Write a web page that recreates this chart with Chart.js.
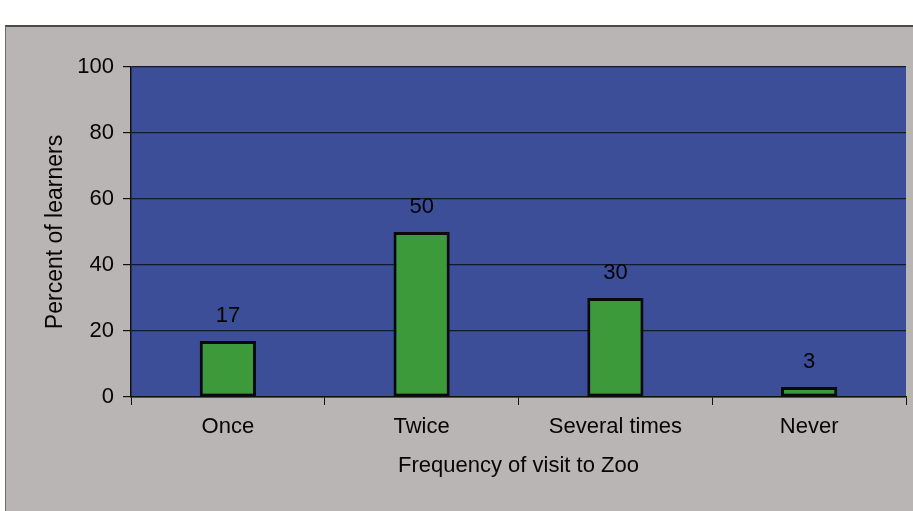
<!DOCTYPE html>
<html lang="en">
<head>
    <meta charset="UTF-8">
    <title>Frequency of visit to Zoo</title>
    <script src="https://cdn.jsdelivr.net/npm/chart.js"></script>
    <style>
        html, body { margin: 0; padding: 0; background: #ffffff; overflow: hidden; }
        #frame {
            position: absolute; left: 5px; top: 25px; width: 908px; height: 486px;
            background: #bab5b5; border-top: 2px solid #4a4a4a; border-left: 1px solid #6a6a6a;
            box-sizing: border-box;
        }
    </style>
</head>
<body>
    <div id="frame"><canvas id="zooChart" width="907" height="484"></canvas></div>
    <script>
        // data
        const categories = ['Once', 'Twice', 'Several times', 'Never'];
        const percents = [17, 50, 30, 3];
        const yTicks = [0, 20, 40, 60, 80, 100];

        const fontMain = { family: '"Liberation Sans", Arial, sans-serif', size: 22 };
        const fontTitle = { family: '"Liberation Sans", Arial, sans-serif', size: 23 };

        // blue plot background
        const plotBg = {
            id: 'plotBg',
            beforeDraw: (chart) => {
                const a = chart.chartArea;
                const ctx = chart.ctx;
                ctx.save();
                ctx.fillStyle = '#3b4e97';
                ctx.fillRect(a.left, a.top, a.right - a.left, a.bottom - a.top);
                ctx.restore();
            }
        };

        // value labels above the bars
        const barValues = {
            id: 'barValues',
            afterDatasetsDraw: (chart) => {
                const ctx = chart.ctx;
                const meta = chart.getDatasetMeta(0);
                ctx.save();
                ctx.font = fontMain.size + 'px ' + fontMain.family;
                ctx.fillStyle = '#050505';
                ctx.textAlign = 'center';
                ctx.textBaseline = 'middle';
                meta.data.forEach((bar, i) => {
                    ctx.fillText(percents[i], bar.x, bar.y - 25);
                });
                ctx.restore();
            }
        };

        const ctx = document.getElementById('zooChart').getContext('2d');
        new Chart(ctx, {
            type: 'bar',
            data: {
                labels: categories,
                datasets: [{
                    data: percents,
                    backgroundColor: '#3c9a3a',
                    borderColor: '#0a0a0a',
                    borderWidth: 3,
                    borderSkipped: false,
                    barPercentage: 0.29,
                    categoryPercentage: 1
                }]
            },
            options: {
                responsive: false,
                animation: false,
                layout: { padding: { top: 40, right: 7, left: 0, bottom: 0 } },
                plugins: { legend: { display: false }, tooltip: { enabled: false } },
                scales: {
                    x: {
                        afterFit: (s) => { s.height = 114; },
                        grid: { drawOnChartArea: false, drawTicks: true, tickLength: 8, color: '#111', offset: true },
                        border: { color: '#111', width: 1.5 },
                        ticks: { color: '#050505', font: fontMain, padding: 9 },
                        title: { display: true, text: 'Frequency of visit to Zoo', color: '#050505', font: fontMain, padding: { top: 4, bottom: 32 } }
                    },
                    y: {
                        min: 0, max: 100,
                        afterFit: (s) => { s.width = 125; },
                        afterBuildTicks: (s) => { s.ticks = yTicks.map(v => ({ value: v })); },
                        grid: { color: '#151a30', lineWidth: 1.2, tickLength: 8, tickColor: '#111' },
                        border: { color: '#111', width: 1.5 },
                        ticks: { color: '#050505', font: fontMain, padding: 9 },
                        title: { display: true, text: 'Percent of learners', color: '#050505', font: fontTitle, padding: { top: 36, bottom: 0 } }
                    }
                }
            },
            plugins: [plotBg, barValues]
        });
    </script>
</body>
</html>
